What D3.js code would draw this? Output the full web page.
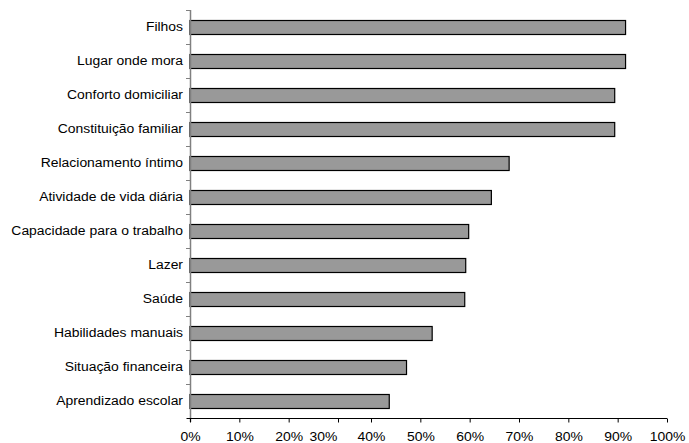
<!DOCTYPE html>
<html><head><meta charset="utf-8">
<script src="https://cdn.jsdelivr.net/npm/d3@7"></script>
<style>body{margin:0;background:#fff}svg{display:block}text{font-family:"Liberation Sans",Arial,sans-serif;font-size:12px;fill:#000}</style>
</head><body>
<svg id="c" width="689" height="443"></svg>
<script>
const categories = ["Filhos","Lugar onde mora","Conforto domiciliar","Constituição familiar","Relacionamento íntimo","Atividade de vida diária","Capacidade para o trabalho","Lazer","Saúde","Habilidades manuais","Situação financeira","Aprendizado escolar"];
const values = [0.916,0.916,0.894,0.894,0.680,0.644,0.598,0.592,0.590,0.524,0.472,0.437];
const tickValues = [0,0.1,0.2,0.3,0.4,0.5,0.6,0.7,0.8,0.9,1.0];
const tickLabels = ["0%","10%","20%","30%","40%","50%","60%","70%","80%","90%","100%"];

const stretch = 1.16;
const svg = d3.select("#c");
const x = d3.scaleLinear().domain([0,0.3,0.4,1]).range([190,338,371,667]);
const y = d3.scaleBand().domain(categories).range([10,418]).paddingInner(0);
const barH = 14;

// bars
svg.append("g").selectAll("rect").data(categories).join("rect")
  .attr("x", x(0))
  .attr("y", (d)=> Math.round(y(d) + y.bandwidth()/2 - barH/2) + 0.5)
  .attr("width", (d,i)=> x(values[i]) - x(0))
  .attr("height", barH)
  .attr("fill", "#999999")
  .attr("stroke", "#000")
  .attr("stroke-width", 1.2);

// y axis line and ticks
const ya = svg.append("g");
ya.append("line").attr("x1",190.5).attr("x2",190.5).attr("y1",10).attr("y2",422).attr("stroke","#808080").attr("stroke-width",1.5);
const edges = categories.map(c=>y(c)).concat([y.range()[1]]);
ya.selectAll("line.t").data(edges).join("line").attr("class","t")
  .attr("x1",186).attr("x2",190).attr("y1",d=>Math.round(d)+0.5).attr("y2",d=>Math.round(d)+0.5)
  .attr("stroke","#808080").attr("stroke-width",1);
ya.selectAll("text").data(categories).join("text")
  .attr("transform", d=> `translate(183,${y(d)+y.bandwidth()/2 + 4.3}) scale(${stretch},1)`)
  .attr("text-anchor","end")
  .text(d=>d);

// x axis
const xa = svg.append("g").attr("transform","translate(0,418.5)");
xa.call(d3.axisBottom(x).tickValues(tickValues).tickSize(4).tickSizeOuter(0)
  .tickFormat((d,i)=>tickLabels[i]));
xa.select(".domain").attr("stroke","#000").attr("d","M187,0H667");
xa.selectAll(".tick line").attr("stroke","#000");
xa.selectAll(".tick text")
  .attr("y",null).attr("dy",null)
  .attr("transform",(d,i)=> `translate(${tickLabels[i]==="30%" ? -15 : 0},22.5) scale(${stretch},1)`)
  .style("font-family","'Liberation Sans',Arial,sans-serif").style("font-size","12px").attr("fill","#000");
</script>
</body></html>
